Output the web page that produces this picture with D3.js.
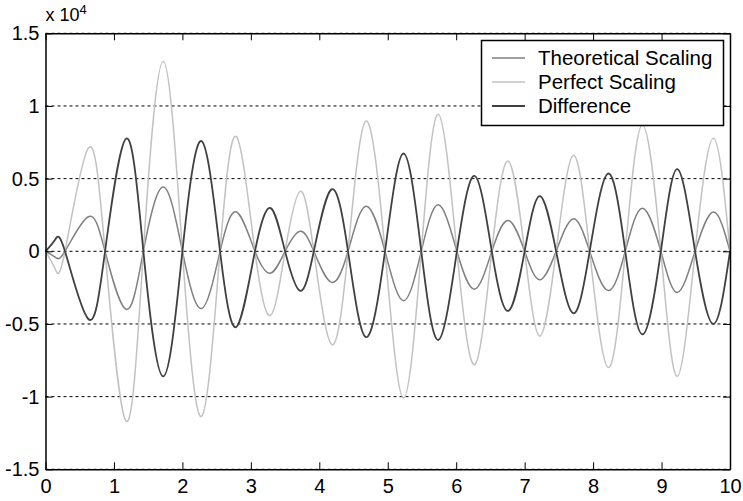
<!DOCTYPE html>
<html>
<head>
<meta charset="utf-8">
<script src="https://cdn.jsdelivr.net/npm/d3@7"></script>
<style>
  html, body { margin: 0; padding: 0; background: #fff; }
  svg { display: block; }
  text { font-family: "Liberation Sans", Arial, Helvetica, sans-serif; fill: #000; }
</style>
</head>
<body>
<svg id="chart" width="743" height="501"></svg>
<script>
// ---- data ----
const xTicks = [0, 1, 2, 3, 4, 5, 6, 7, 8, 9, 10];
const yTicks = [-15000, -10000, -5000, 0, 5000, 10000, 15000];
const yTickLabels = ["-1.5", "-1", "-0.5", "0", "0.5", "1", "1.5"];
const seriesNames = ["Theoretical Scaling", "Perfect Scaling", "Difference"];
const seriesColors = ["#808080", "#c2c2c2", "#404040"];

// sample positions (zero crossings and extrema)
const xs = [0, 0.14, 0.285, 0.625, 0.87, 1.18, 1.43, 1.72, 2.0, 2.28, 2.55, 2.79, 3.06, 3.29, 3.50, 3.72, 3.92, 4.18, 4.42, 4.68,
            4.96, 5.23, 5.49, 5.74, 6.01, 6.27, 6.52, 6.76, 7.0, 7.22, 7.46, 7.71, 7.95, 8.22, 8.47, 8.72, 8.99, 9.23, 9.49, 9.76, 10];
const theoretical = [0, -400, 0, 2380, 0, -4000, 0, 4420, 0, -3940, 0, 2700, 0, -1500, 0, 1380, 0, -2140, 0, 3100,
                     0, -3400, 0, 3200, 0, -2600, 0, 2120, 0, -1960, 0, 2230, 0, -2700, 0, 2970, 0, -2830, 0, 2700, 0];
const perfect = [0, -1200, 0, 7100, 0, -11700, 0, 13060, 0, -11360, 0, 7880, 0, -4400, 0, 4120, 0, -6400, 0, 8960,
                 0, -10100, 0, 9420, 0, -7800, 0, 6200, 0, -5830, 0, 6600, 0, -8000, 0, 8690, 0, -8600, 0, 7770, 0];
const difference = [0, 800, 0, -4660, 0, 7760, 0, -8600, 0, 7580, 0, -5200, 0, 2970, 0, -2720, 0, 4260, 0, -5900,
                    0, 6730, 0, -6100, 0, 5180, 0, -4100, 0, 3800, 0, -4260, 0, 5350, 0, -5710, 0, 5650, 0, -5000, 0];

// ---- layout ----
const svg = d3.select("#chart");
const L = 45.5, R = 730, T = 33.3, B = 469.3;
const FS = 20;

const x = d3.scaleLinear().domain([0, 10]).range([L, R]);
const y = d3.scaleLinear().domain([-15000, 15000]).range([B, T]);

// grid (horizontal dotted lines)
svg.append("g").selectAll("line").data(yTicks).join("line")
  .attr("x1", L).attr("x2", R)
  .attr("y1", d => y(d)).attr("y2", d => y(d))
  .attr("stroke", "#000").attr("stroke-width", 1)
  .attr("stroke-dasharray", "3,3");

// series
const allSeries = [theoretical, perfect, difference];
const line = d3.line().x((d, i) => x(xs[i])).y(d => y(d)).curve(d3.curveNatural);
svg.append("g").selectAll("path").data(allSeries).join("path")
  .attr("d", d => line(d))
  .attr("fill", "none")
  .attr("stroke", (d, i) => seriesColors[i])
  .attr("stroke-width", (d, i) => i === 2 ? 1.8 : 1.5)
  .attr("stroke-linejoin", "round");

// axes (box with inward ticks)
const fmtY = d => yTickLabels[yTicks.indexOf(d)];
const axB = svg.append("g").attr("transform", `translate(0,${B})`)
  .call(d3.axisBottom(x).tickValues(xTicks).tickSizeInner(-7).tickSizeOuter(0).tickPadding(9.5).tickFormat(d3.format("d")));
const axT = svg.append("g").attr("transform", `translate(0,${T})`)
  .call(d3.axisTop(x).tickValues(xTicks).tickSizeInner(-7).tickSizeOuter(0).tickFormat(""));
const axL = svg.append("g").attr("transform", `translate(${L},0)`)
  .call(d3.axisLeft(y).tickValues(yTicks).tickSizeInner(-7).tickSizeOuter(0).tickPadding(6).tickFormat(fmtY));
const axR = svg.append("g").attr("transform", `translate(${R},0)`)
  .call(d3.axisRight(y).tickValues(yTicks).tickSizeInner(-7).tickSizeOuter(0).tickFormat(""));
[axB, axT, axL, axR].forEach(g => {
  g.select(".domain").attr("stroke", "#000").attr("stroke-width", 1.5);
  g.selectAll(".tick line").attr("stroke", "#000").attr("stroke-width", 1);
  g.selectAll("text").attr("font-size", FS).attr("font-family", "Liberation Sans, Arial, sans-serif").attr("fill", "#000");
});

// exponent label
const ex = svg.append("text").attr("x", L).attr("y", 21).attr("font-size", 18);
ex.append("tspan").text("x 10");
ex.append("tspan").attr("dy", -7).attr("font-size", 13).text("4");

// legend
const lg = svg.append("g");
lg.append("rect").attr("x", 481.5).attr("y", 40.5).attr("width", 242).attr("height", 85)
  .attr("fill", "#fff").attr("stroke", "#000").attr("stroke-width", 1.5);
const rowY = [58, 82, 106];
seriesNames.forEach((name, i) => {
  lg.append("line").attr("x1", 492).attr("x2", 525).attr("y1", rowY[i]).attr("y2", rowY[i])
    .attr("stroke", seriesColors[i]).attr("stroke-width", i === 2 ? 1.8 : 1.5);
  lg.append("text").attr("x", 538).attr("y", rowY[i]).attr("dy", "0.36em")
    .attr("font-size", 20.5).text(name);
});
</script>
</body>
</html>
